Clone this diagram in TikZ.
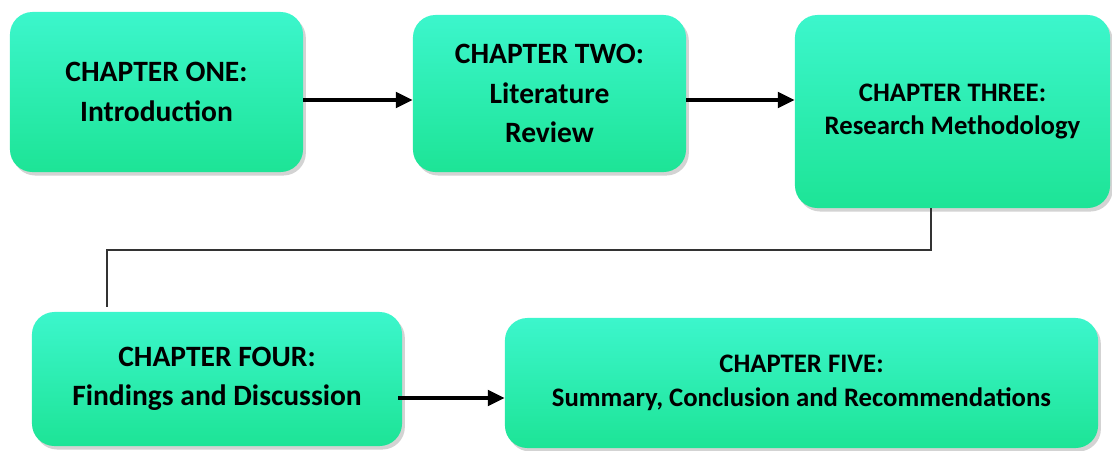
\documentclass[tikz,border=0pt]{standalone}
\usepackage{fontspec}
\setmainfont{Carlito}
\usepackage{tikz}
\usetikzlibrary{arrows.meta,calc,shadows}
\definecolor{boxTop}{HTML}{3CF6CC}
\definecolor{boxMid}{HTML}{22EF9F}
\definecolor{boxBot}{HTML}{1DE496}
\definecolor{linkCol}{HTML}{333333}
\tikzset{
  chap/.style={rounded corners=16pt, top color=boxTop, middle color=boxMid, bottom color=boxBot,
               drop shadow={shadow xshift=2pt, shadow yshift=-2.5pt, opacity=0.35, fill=gray},
               align=center, font=\fontsize{21}{28}\selectfont\bfseries, inner sep=0pt},
  chapsm/.style={chap, font=\fontsize{19}{24}\selectfont\bfseries},
  flow/.style={-{Triangle[length=12pt,width=11pt]}, line width=2.5pt, black},  % straight arrow
  link/.style={line width=1.8pt, linkCol},                                     % elbow line, no tip
}
\begin{document}
\begin{tikzpicture}[x=0.025cm, y=-0.025cm]
  \useasboundingbox (0,0) rectangle (1112,450);
  \node[chap, minimum width=7.325cm, minimum height=4.0cm] (c1) at (156.5,92)
       {CHAPTER ONE:\\Introduction};
  \node[chap, minimum width=6.825cm, minimum height=3.925cm] (c2) at (549.5,93.5)
       {CHAPTER TWO:\\Literature\\Review};
  \node[chapsm, minimum width=7.875cm, minimum height=4.825cm] (c3) at (952.5,111.5)
       {CHAPTER THREE:\\Research Methodology};
  \node[chap, minimum width=9.25cm, minimum height=3.35cm] (c4) at (217,379)
       {CHAPTER FOUR:\\Findings and Discussion};
  \node[chapsm, minimum width=14.825cm, minimum height=3.25cm] (c5) at (801.5,383)
       {CHAPTER FIVE:\\Summary, Conclusion and Recommendations};

  \coordinate (bend) at (107,250);
  \draw[flow] (c1.east |- 0,100) -- (c2.west |- 0,100);
  \draw[flow] (c2.east |- 0,100) -- (c3.west |- 0,100);
  \draw[link] (c3.south -| 931,0) |- (bend) -- ([yshift=3pt]c4.north -| bend);
  \draw[flow] ([xshift=-3pt]c4.east |- 0,398) -- (c5.west |- 0,398);
\end{tikzpicture}
\end{document}
